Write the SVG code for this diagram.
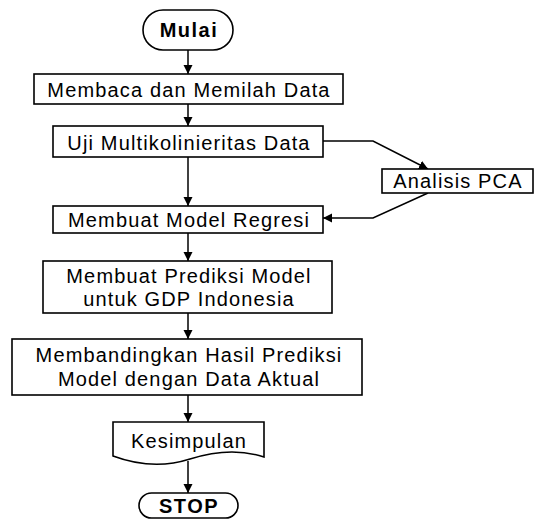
<svg xmlns="http://www.w3.org/2000/svg" width="535" height="519" viewBox="0 0 535 519">
<style>
.box{fill:#fff;stroke:#000;stroke-width:1.6}
.t{font-family:"Liberation Sans",Arial,sans-serif;font-size:20px;letter-spacing:1.15px;text-anchor:middle;fill:#000}
.b{font-weight:bold;letter-spacing:1.5px}
.c{fill:none;stroke:#000;stroke-width:1.5}
</style>
<defs>
<marker id="ah" viewBox="0 0 10 10" refX="10" refY="5" markerWidth="9" markerHeight="10" markerUnits="userSpaceOnUse" orient="auto">
<path d="M0,0 L10,5 L0,10 z" fill="#000"/>
</marker>
</defs>
<rect width="535" height="519" fill="#fff"/>
<g id="connectors">
<line class="c" x1="188" y1="50" x2="188" y2="74" marker-end="url(#ah)"/>
<line class="c" x1="188" y1="104" x2="188" y2="126" marker-end="url(#ah)"/>
<line class="c" x1="188" y1="157" x2="188" y2="206" marker-end="url(#ah)"/>
<line class="c" x1="188" y1="233" x2="188" y2="261" marker-end="url(#ah)"/>
<line class="c" x1="188" y1="313" x2="188" y2="339" marker-end="url(#ah)"/>
<line class="c" x1="188" y1="395" x2="188" y2="422" marker-end="url(#ah)"/>
<line class="c" x1="188" y1="461" x2="188" y2="493" marker-end="url(#ah)"/>
<polyline class="c" points="323,141 373,141 428,169" marker-end="url(#ah)"/>
<polyline class="c" points="428,193 373,218 323,218" marker-end="url(#ah)"/>
</g>
<g id="mulai">
<rect class="box" x="143" y="10" width="90" height="40" rx="20"/>
<text class="t b" x="189" y="37">Mulai</text>
</g>
<g id="membaca">
<rect class="box" x="34" y="74" width="309" height="30"/>
<text class="t" x="189" y="97">Membaca dan Memilah Data</text>
</g>
<g id="uji">
<rect class="box" x="53" y="126" width="270" height="31"/>
<text class="t" x="189" y="150">Uji Multikolinieritas Data</text>
</g>
<g id="pca">
<rect class="box" x="382" y="169" width="151" height="24"/>
<text class="t" x="458" y="188">Analisis PCA</text>
</g>
<g id="regresi">
<rect class="box" x="53" y="206" width="270" height="27"/>
<text class="t" x="189" y="227">Membuat Model Regresi</text>
</g>
<g id="prediksi">
<rect class="box" x="43" y="261" width="289" height="52"/>
<text class="t" x="189" y="283">Membuat Prediksi Model</text>
<text class="t" x="189" y="306">untuk GDP Indonesia</text>
</g>
<g id="membandingkan">
<rect class="box" x="12" y="339" width="350" height="56"/>
<text class="t" x="189" y="362">Membandingkan Hasil Prediksi</text>
<text class="t" x="189" y="386">Model dengan Data Aktual</text>
</g>
<g id="kesimpulan">
<path class="box" d="M113,422 H264 V457 C240,449 215,451 190,459 C165,467 140,466 113,456 Z"/>
<text class="t" x="189" y="448">Kesimpulan</text>
</g>
<g id="stop">
<rect class="box" x="139" y="493" width="99" height="25" rx="12.5"/>
<text class="t b" x="189" y="513">STOP</text>
</g>
</svg>
